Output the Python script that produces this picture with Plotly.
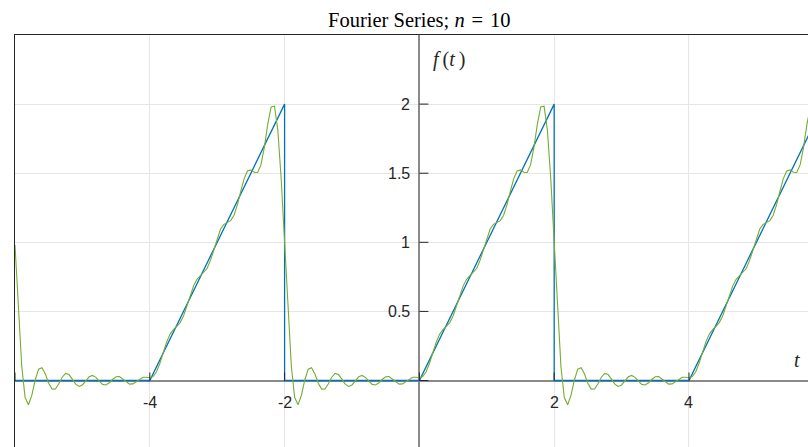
import plotly.graph_objects as go

# ---- data ----
# piecewise target function f(t) (vertices of the periodic ramp)
f_t = [-6, -4, -2, -2, 0, 2, 2, 4, 6]
f_y = [0, 0, 2, 0, 0, 2, 0, 0, 2]

# Fourier partial sum (n = 10), one period sampled at t = -2.00 ... 1.95 (step 0.05)
period_t = [-2.00, -1.95, -1.90, -1.85, -1.80, -1.75, -1.70, -1.65, -1.60, -1.55,
            -1.50, -1.45, -1.40, -1.35, -1.30, -1.25, -1.20, -1.15, -1.10, -1.05,
            -1.00, -0.95, -0.90, -0.85, -0.80, -0.75, -0.70, -0.65, -0.60, -0.55,
            -0.50, -0.45, -0.40, -0.35, -0.30, -0.25, -0.20, -0.15, -0.10, -0.05,
            0.00, 0.05, 0.10, 0.15, 0.20, 0.25, 0.30, 0.35, 0.40, 0.45,
            0.50, 0.55, 0.60, 0.65, 0.70, 0.75, 0.80, 0.85, 0.90, 0.95,
            1.00, 1.05, 1.10, 1.15, 1.20, 1.25, 1.30, 1.35, 1.40, 1.45,
            1.50, 1.55, 1.60, 1.65, 1.70, 1.75, 1.80, 1.85, 1.90, 1.95]
period_y = [0.980, 0.493, 0.103, -0.123, -0.175, -0.106, 0.004, 0.082, 0.093, 0.047,
            -0.019, -0.062, -0.061, -0.023, 0.024, 0.051, 0.043, 0.010, -0.026, -0.043,
            -0.032, -0.002, 0.027, 0.037, 0.023, -0.004, -0.028, -0.032, -0.016, 0.009,
            0.027, 0.028, 0.011, -0.012, -0.026, -0.024, -0.007, 0.012, 0.024, 0.024,
            0.020, 0.029, 0.063, 0.125, 0.203, 0.278, 0.334, 0.368, 0.391, 0.419,
            0.467, 0.537, 0.616, 0.685, 0.732, 0.758, 0.777, 0.810, 0.869, 0.949,
            1.032, 1.096, 1.130, 1.143, 1.157, 1.196, 1.272, 1.370, 1.461, 1.516,
            1.524, 1.507, 1.505, 1.562, 1.689, 1.853, 1.980, 1.985, 1.810, 1.454]
period_shifts = [-4, 0, 4]   # the three periods visible in the chart
end_t, end_y = 6.0, 0.980

x_ticks = [-6, -4, -2, 0, 2, 4]
x_tick_labels = {-4: "-4", -2: "-2", 2: "2", 4: "4"}
y_ticks = [0, 0.5, 1, 1.5, 2]
y_tick_labels = {0.5: "0.5", 1: "1", 1.5: "1.5", 2: "2"}

title_text = "Fourier Series; <i>n</i>\u2004=\u200410"

# ---- assemble green series from the measured period ----
g_t, g_y = [], []
for s in period_shifts:
    g_t += [round(t + s, 2) for t in period_t]
    g_y += period_y
g_t.append(end_t)
g_y.append(end_y)

BLUE = "#0072BD"
GREEN = "#77AC30"
AX = "#262626"
SANS = "Liberation Sans, Arial, sans-serif"
SERIF = "Liberation Serif, Times New Roman, serif"

fig = go.Figure()
fig.add_trace(go.Scatter(x=f_t, y=f_y, mode="lines",
                         line=dict(color=BLUE, width=1.3), hoverinfo="skip"))
fig.add_trace(go.Scatter(x=g_t, y=g_y, mode="lines",
                         line=dict(color=GREEN, width=1.1), hoverinfo="skip"))

shapes = []
for xt in x_ticks:
    shapes.append(dict(type="line", xref="x", yref="y", ysizemode="pixel", yanchor=0,
                       x0=xt, x1=xt, y0=0, y1=8, line=dict(color=AX, width=1), layer="above"))
for yt in y_ticks:
    shapes.append(dict(type="line", xref="x", yref="y", xsizemode="pixel", xanchor=0,
                       x0=0, x1=9, y0=yt, y1=yt, line=dict(color=AX, width=1), layer="above"))

ann = []
for xv, lab in x_tick_labels.items():
    ann.append(dict(x=xv, y=0, xref="x", yref="y", text=lab, showarrow=False,
                    yanchor="middle", xanchor="center", yshift=-21.5,
                    font=dict(family=SANS, size=16, color=AX)))
for yv, lab in y_tick_labels.items():
    ann.append(dict(x=0, y=yv, xref="x", yref="y", text=lab, showarrow=False,
                    yanchor="middle", xanchor="right", xshift=-7,
                    font=dict(family=SANS, size=16, color=AX)))
ann.append(dict(x=0, y=1, xref="x", yref="paper", text=title_text, showarrow=False,
                yanchor="middle", xanchor="center", yshift=15,
                font=dict(family=SERIF, size=20.5, color="#000000")))
ann.append(dict(x=0.445, y=2.325, xref="x", yref="y",
                text="<i>f</i>\u2009(<i>t</i>\u2009)", showarrow=False,
                yanchor="middle", xanchor="center",
                font=dict(family=SERIF, size=20, color=AX)))
ann.append(dict(x=5.61, y=0.148, xref="x", yref="y", text="<i>t</i>", showarrow=False,
                yanchor="middle", xanchor="center",
                font=dict(family=SERIF, size=20, color=AX)))

fig.update_layout(
    width=808, height=447,
    margin=dict(l=15, r=0, t=35, b=0),
    paper_bgcolor="white", plot_bgcolor="white",
    showlegend=False,
    shapes=shapes, annotations=ann,
    xaxis=dict(range=[-6, 5.766], tick0=0, dtick=2, showgrid=True, gridcolor="#e6e6e6",
               gridwidth=1, zeroline=True, zerolinecolor="#8a8a8a", zerolinewidth=1.5,
               showline=True, side="top", linecolor=AX, linewidth=1,
               showticklabels=False, ticks="", fixedrange=True),
    yaxis=dict(range=[-0.481, 2.5], tick0=0, dtick=0.5, showgrid=True, gridcolor="#e6e6e6",
               gridwidth=1, zeroline=True, zerolinecolor="#8a8a8a", zerolinewidth=2,
               showline=True, side="left", linecolor=AX, linewidth=1,
               showticklabels=False, ticks="", fixedrange=True),
)

fig.write_html("out.html", config={"displayModeBar": False},
               post_script="document.body.style.margin='0';document.body.style.overflow='hidden';")
